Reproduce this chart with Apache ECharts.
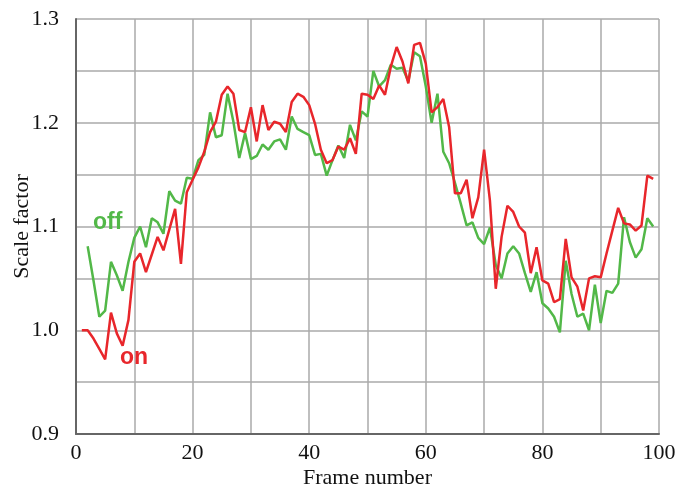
<!DOCTYPE html>
<html>
<head>
<meta charset="utf-8">
<script src="https://cdn.jsdelivr.net/npm/echarts@6/dist/echarts.min.js"></script>
<style>
  html, body { margin: 0; padding: 0; background: #fff; }
  #chart { width: 675px; height: 490px; }
</style>
</head>
<body>
<div id="chart"></div>
<script>
// frame numbers 1..99
var frames = [];
for (var i = 1; i <= 99; i++) frames.push(i);

// "on" curve (red)
var onValues = [
  1.000, 1.000, 0.992, 0.982, 0.972, 1.017, 0.997, 0.985, 1.010, 1.066,
  1.074, 1.056, 1.073, 1.090, 1.077, 1.097, 1.117, 1.064, 1.133, 1.145,
  1.157, 1.172, 1.191, 1.201, 1.227, 1.235, 1.228, 1.193, 1.191, 1.215,
  1.182, 1.217, 1.193, 1.201, 1.199, 1.191, 1.220, 1.228, 1.225, 1.217,
  1.199, 1.174, 1.161, 1.164, 1.177, 1.174, 1.185, 1.170, 1.228, 1.227,
  1.223, 1.236, 1.227, 1.254, 1.273, 1.259, 1.238, 1.275, 1.277, 1.257,
  1.210, 1.215, 1.223, 1.196, 1.132, 1.132, 1.145, 1.108, 1.128, 1.174,
  1.125, 1.040, 1.090, 1.120, 1.114, 1.100, 1.094, 1.055, 1.080, 1.048,
  1.045, 1.027, 1.030, 1.088, 1.051, 1.042, 1.019, 1.050, 1.052, 1.051,
  1.074, 1.096, 1.118, 1.103, 1.102, 1.096, 1.101, 1.149, 1.146
];

// "off" curve (green), starts at frame 2
var offValues = [
  null,  1.081, 1.048, 1.013, 1.019, 1.066, 1.053, 1.038, 1.066, 1.089,
  1.100, 1.080, 1.108, 1.104, 1.093, 1.134, 1.125, 1.122, 1.147, 1.146,
  1.164, 1.169, 1.210, 1.186, 1.188, 1.228, 1.201, 1.166, 1.190, 1.165,
  1.168, 1.179, 1.174, 1.182, 1.184, 1.174, 1.206, 1.194, 1.191, 1.188,
  1.169, 1.170, 1.149, 1.164, 1.178, 1.166, 1.198, 1.183, 1.211, 1.206,
  1.250, 1.235, 1.241, 1.256, 1.252, 1.253, 1.240, 1.268, 1.264, 1.235,
  1.200, 1.228, 1.172, 1.161, 1.142, 1.122, 1.101, 1.104, 1.089, 1.083,
  1.099, 1.063, 1.050, 1.074, 1.081, 1.074, 1.055, 1.037, 1.056, 1.026,
  1.021, 1.013, 0.998, 1.067, 1.035, 1.013, 1.016, 1.000, 1.044, 1.007,
  1.038, 1.036, 1.045, 1.109, 1.085, 1.070, 1.078, 1.108, 1.100
];

var xTickLabels = [0, 20, 40, 60, 80, 100];
var yTickLabels = [0.9, 1.0, 1.1, 1.2, 1.3];

var RED = '#e8262b';
var GREEN = '#52b848';
var SERIF = '"Liberation Serif", "Times New Roman", serif';
var SANS = '"Liberation Sans", Arial, sans-serif';

function pairs(vals) {
    return frames.map(function(f, i) { return [f, vals[i]]; });
}

var chart = echarts.init(document.getElementById('chart'));

var option = {
    animation: false,
    backgroundColor: '#fff',
    grid: { left: 76, right: 16, top: 19, bottom: 56, containLabel: false, outerBoundsMode: 'none' },
    xAxis: {
        type: 'value',
        min: 0, max: 100, interval: 10,
        name: 'Frame number',
        nameLocation: 'middle',
        nameGap: 33,
        nameMoveOverlap: false,
        nameTextStyle: { fontFamily: SERIF, fontSize: 22, color: '#111' },
        axisLine: { show: true, lineStyle: { color: '#666', width: 2 } },
        axisTick: { show: false },
        axisLabel: {
            margin: 8,
            fontFamily: SERIF, fontSize: 22, color: '#111',
            formatter: function(v) {
                return xTickLabels.indexOf(v) >= 0 ? String(v) : '';
            }
        },
        splitLine: { show: true, lineStyle: { color: '#aaa', width: 1.5 } }
    },
    yAxis: {
        type: 'value',
        min: 0.9, max: 1.3, interval: 0.05,
        name: 'Scale factor',
        nameLocation: 'middle',
        nameGap: 43,
        nameMoveOverlap: false,
        nameTextStyle: { fontFamily: SERIF, fontSize: 22, color: '#111' },
        axisLine: { show: true, lineStyle: { color: '#666', width: 2 } },
        axisTick: { show: false },
        axisLabel: {
            margin: 17,
            fontFamily: SERIF, fontSize: 22, color: '#111',
            formatter: function(v) {
                var r = Math.round(v * 10) / 10;
                if (Math.abs(v - r) > 1e-6) return '';
                return yTickLabels.indexOf(r) >= 0 ? r.toFixed(1) : '';
            }
        },
        splitLine: { show: true, lineStyle: { color: '#aaa', width: 1.5 } }
    },
    series: [{
        name: 'off',
        type: 'line',
        data: pairs(offValues),
        symbol: 'none',
        connectNulls: false,
        lineStyle: { color: GREEN, width: 2.5 },
        z: 3
    }, {
        name: 'on',
        type: 'line',
        data: pairs(onValues),
        symbol: 'none',
        lineStyle: { color: RED, width: 2.5 },
        z: 4
    }],
    graphic: [{
        type: 'text',
        left: 93, top: 211,
        style: { text: 'off', fill: GREEN, font: 'bold 23px ' + SANS },
        z: 10
    }, {
        type: 'text',
        left: 120, top: 346,
        style: { text: 'on', fill: RED, font: 'bold 23px ' + SANS },
        z: 10
    }]
};

chart.setOption(option);
</script>
</body>
</html>
